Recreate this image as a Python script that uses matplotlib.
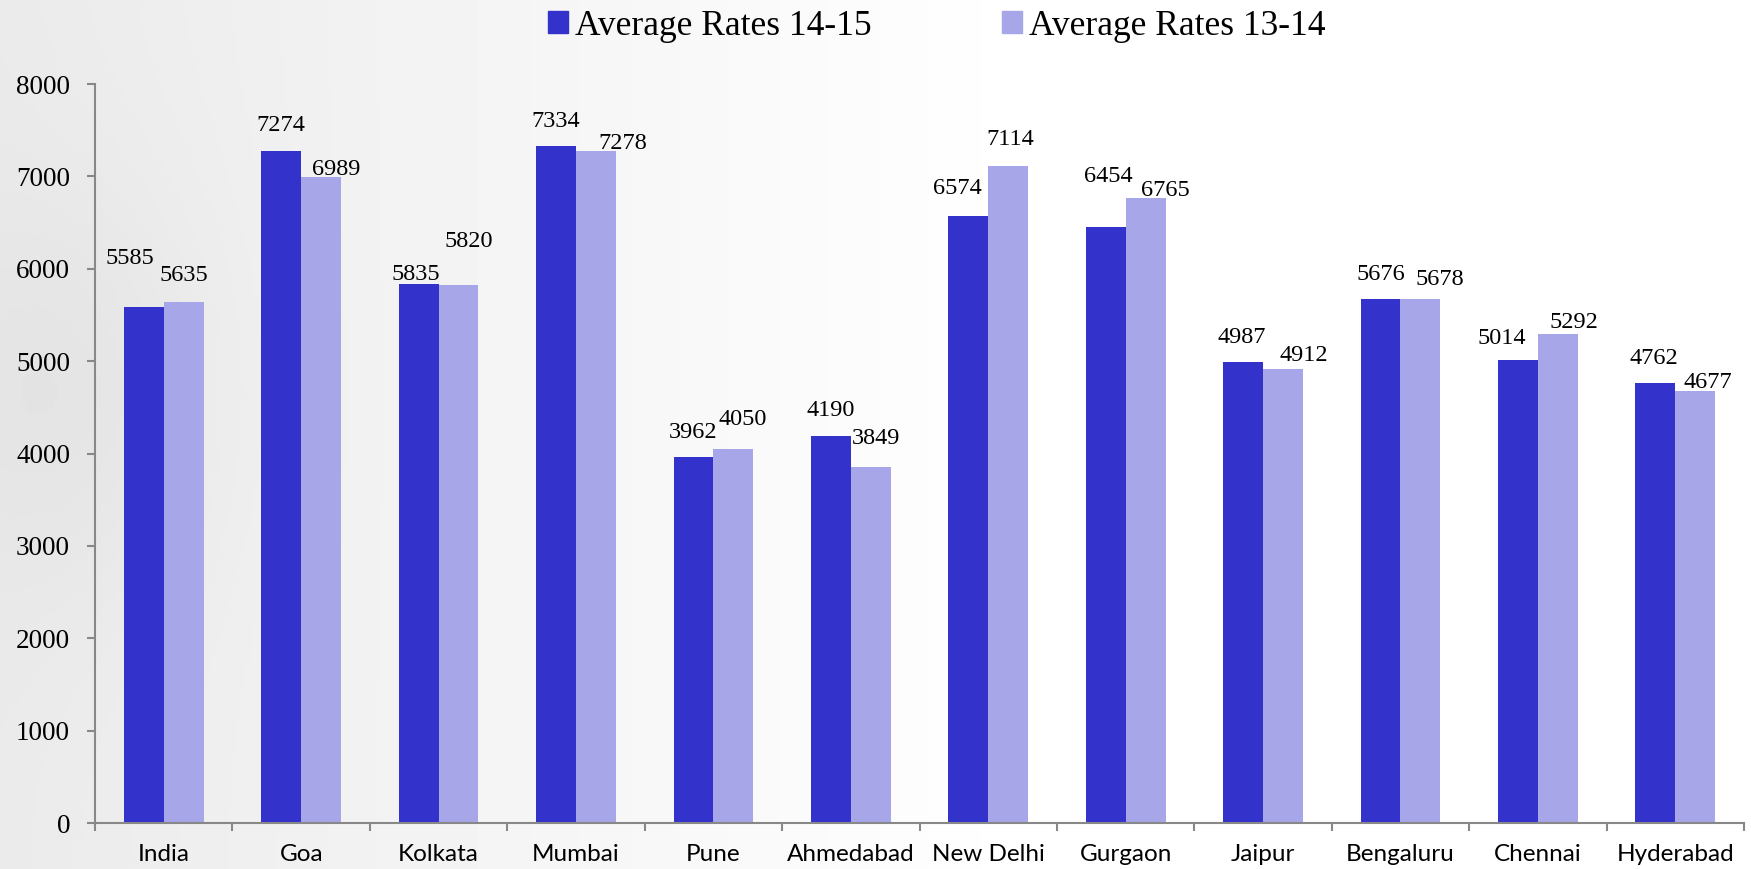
import matplotlib
matplotlib.use('Agg')
import matplotlib.pyplot as plt
import numpy as np
from matplotlib.patches import Patch

# data
cities = ['India', 'Goa', 'Kolkata', 'Mumbai', 'Pune', 'Ahmedabad', 'New Delhi',
          'Gurgaon', 'Jaipur', 'Bengaluru', 'Chennai', 'Hyderabad']
rates_1415 = [5585, 7274, 5835, 7334, 3962, 4190, 6574, 6454, 4987, 5676, 5014, 4762]
rates_1314 = [5635, 6989, 5820, 7278, 4050, 3849, 7114, 6765, 4912, 5678, 5292, 4677]
yticks = [0, 1000, 2000, 3000, 4000, 5000, 6000, 7000, 8000]

# label nudges in pixels (dx, height of label centre above bar top), hand-placed in the original
off_1415 = [(-14, 51), (0, 28), (-3, 12), (0, 27), (0, 27), (0, 28), (-11, 30), (3, 53), (-1, 27), (0, 27), (-16, 24), (-1, 27)]
off_1314 = [(0, 29), (15, 10), (10, 46), (27, 10), (9, 32), (5, 31), (2, 29), (20, 10), (21, 16), (19, 22), (16, 14), (13, 11)]

dark = '#3333CC'
light = '#A6A6E8'
serif = ['Liberation Serif', 'DejaVu Serif']
sans = ['Lato', 'DejaVu Sans']
px = 0.72  # points per pixel at dpi 100

fig = plt.figure(figsize=(17.51, 8.69), dpi=100)

# soft grey/white background
bg = fig.add_axes([0, 0, 1, 1], zorder=-10)
yy, xx = np.mgrid[0:1:200j, 0:1:400j]
shade = 0.92 + 0.08 * np.clip(xx * 1.7, 0, 1) - 0.03 * np.exp(-((xx - 0.04) ** 2 / 0.008 + (yy - 0.45) ** 2 / 0.06))
bg.imshow(shade, cmap='gray', vmin=0, vmax=1, aspect='auto', extent=[0, 1, 0, 1])
bg.axis('off')

ax = fig.add_axes([0.0543, 0.0529, 0.9417, 0.8504])
ax.set_facecolor('none')

x = np.arange(len(cities))
w = 0.29
b1 = ax.bar(x - w / 2, rates_1415, w, color=dark, edgecolor='none')
b2 = ax.bar(x + w / 2, rates_1314, w, color=light, edgecolor='none')

for bars, vals, offs in [(b1, rates_1415, off_1415), (b2, rates_1314, off_1314)]:
	for bar, v, (dx, dy) in zip(bars, vals, offs):
		# baseline sits ~8px below the digits' visual centre
		ax.annotate(str(v), (bar.get_x() + bar.get_width() / 2, v), xytext=(dx * px, (dy - 8) * px),
			textcoords='offset points', ha='center', va='baseline', fontsize=17.5, family=serif)

ax.set_xlim(-0.5, len(cities) - 0.5)
ax.set_ylim(0, 8000)
ax.set_yticks(yticks)
ax.set_yticklabels([str(t) for t in yticks], fontsize=19.5, family=serif)
ax.set_xticks(x)
ax.set_xticklabels(cities, fontsize=17.5, family=sans)
ax.set_xticks(np.arange(len(cities) + 1) - 0.5, minor=True)
ax.tick_params(axis='x', which='major', length=0, pad=15)
ax.tick_params(axis='x', which='minor', length=6, width=1.5, color='#888888', direction='out')
ax.tick_params(axis='y', length=6, width=1.5, color='#888888', pad=12)
for s in ['top', 'right']:
	ax.spines[s].set_visible(False)
for s in ['left', 'bottom']:
	ax.spines[s].set_color('#888888')
	ax.spines[s].set_linewidth(1.5)

handles = [Patch(color=dark, label='Average Rates 14-15'), Patch(color=light, label='Average Rates 13-14')]
fig.legend(handles=handles, loc='center left', bbox_to_anchor=(0.303, 0.970), ncol=2, frameon=False,
	prop={'family': serif, 'size': 25.5}, handlelength=0.55, handleheight=0.55, handletextpad=0.2,
	columnspacing=3.7, borderpad=0)

plt.savefig('out.png', dpi=100)
